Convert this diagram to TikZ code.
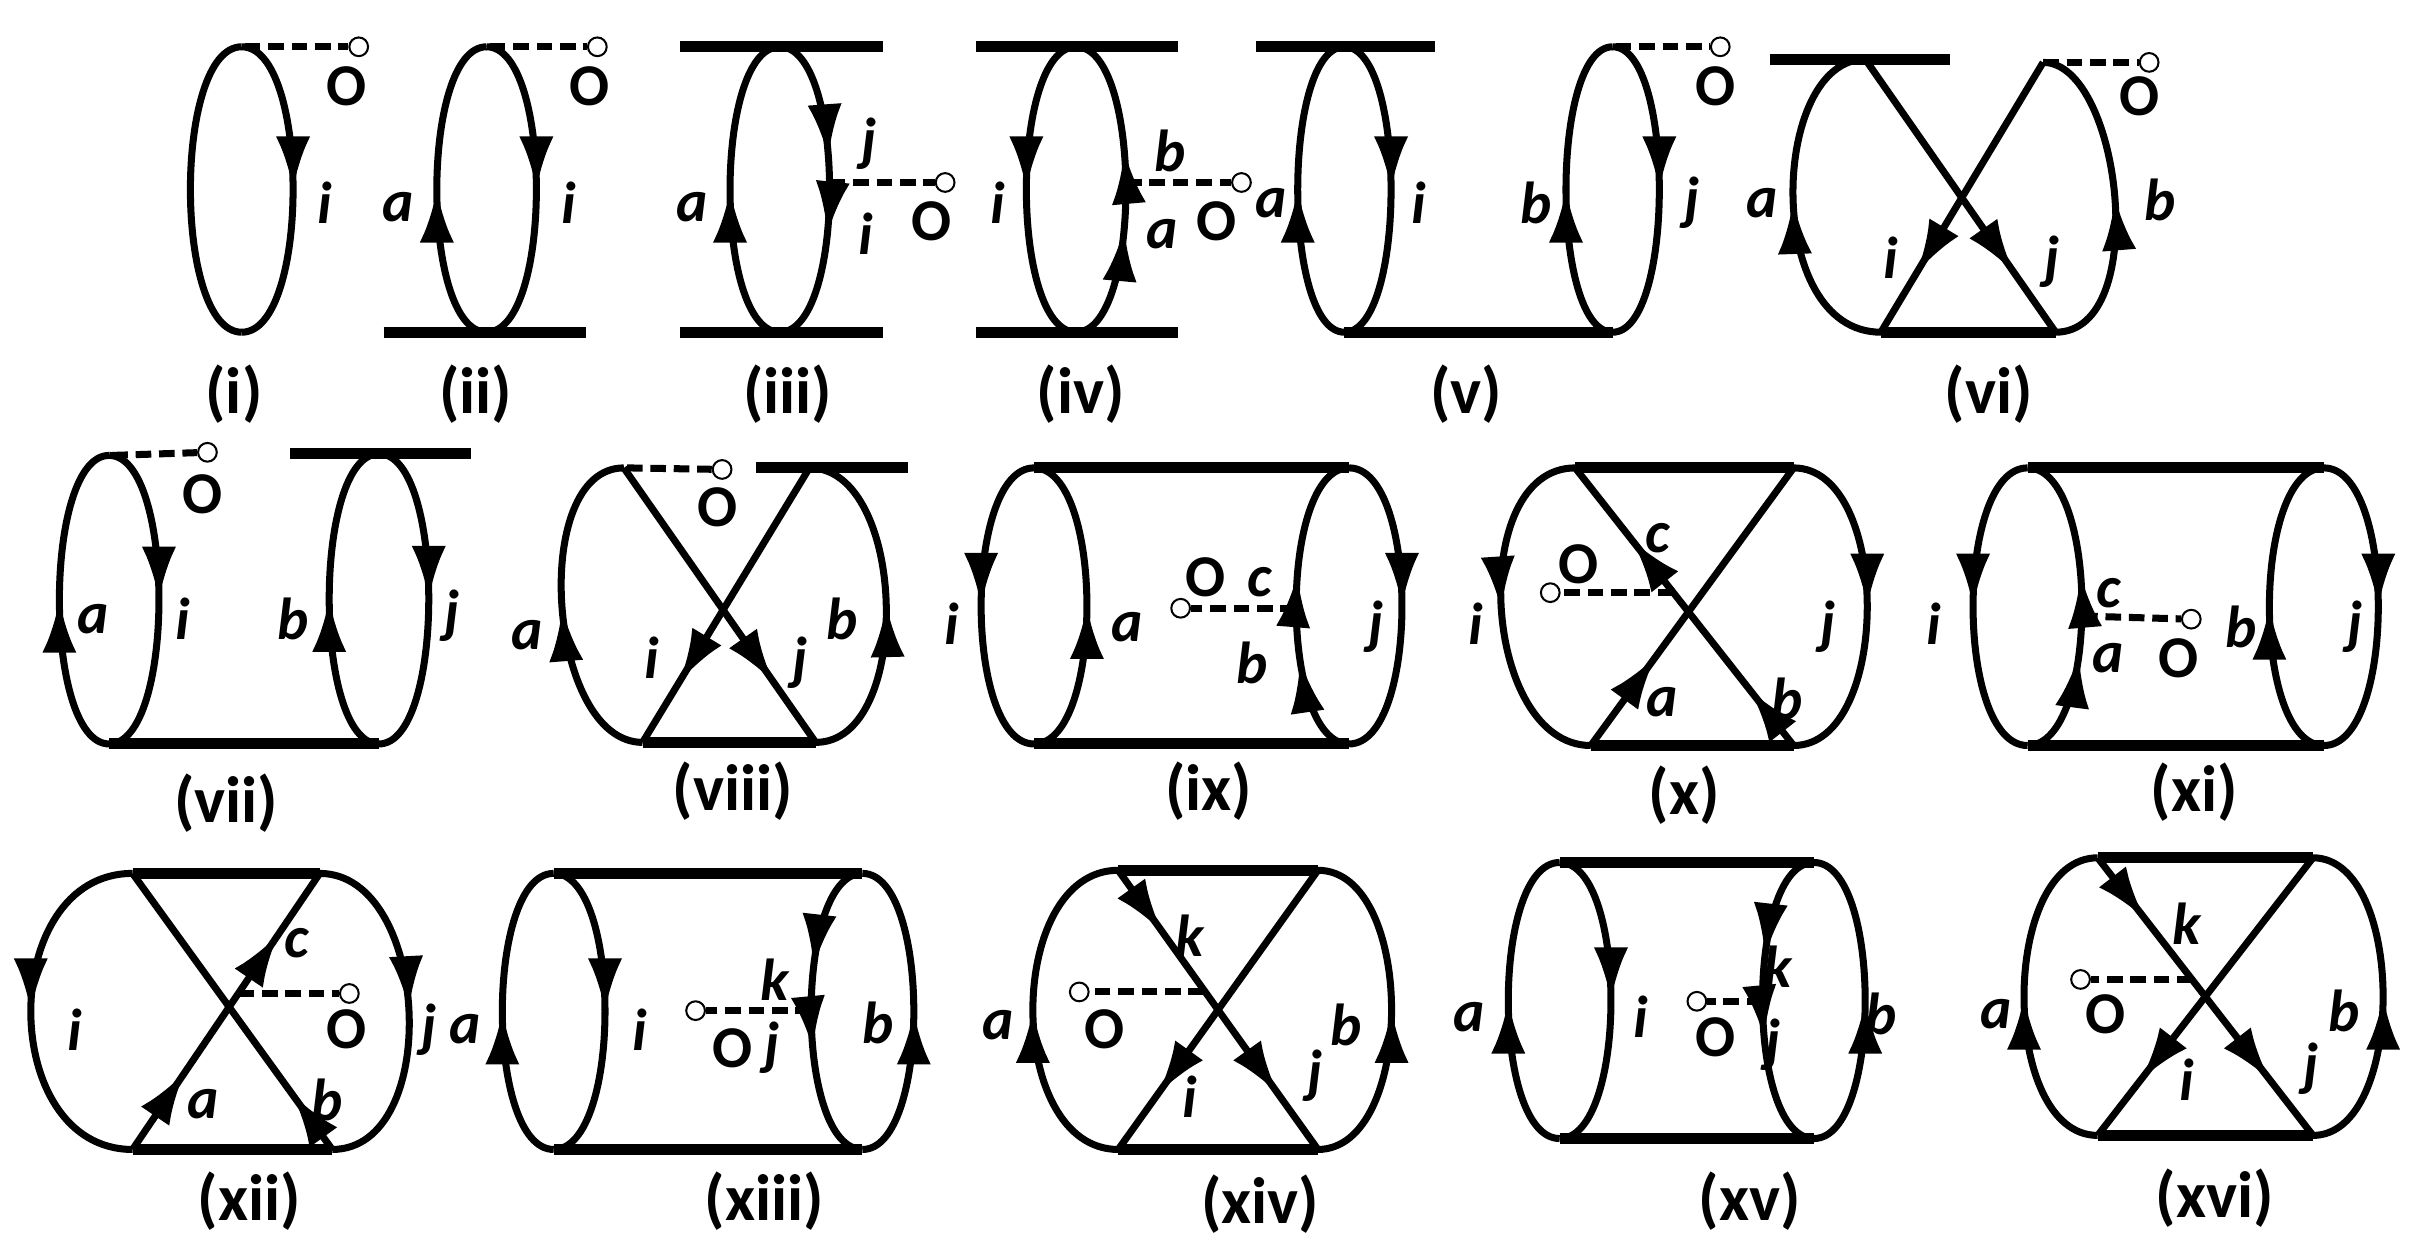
\documentclass[tikz,border=0pt]{standalone}
\usepackage{fontspec}
\setmainfont{Carlito}
\usetikzlibrary{arrows.meta,decorations.markings,calc}
\tikzset{
 tipp/.tip={Latex[length=34pt,width=22pt]},
 fw/.style={postaction={decorate,decoration={markings,mark=at position #1 with {\arrow{tipp}}}}}, fw/.default=0.5,
 bw/.style={postaction={decorate,decoration={markings,mark=at position #1 with {\arrowreversed{tipp}}}}}, bw/.default=0.5,
 fwb/.style n args={2}{postaction={decorate,decoration={markings,mark=at position #1 with {\arrow{tipp}},mark=at position #2 with {\arrow{tipp}}}}},
 bwb/.style n args={2}{postaction={decorate,decoration={markings,mark=at position #1 with {\arrowreversed{tipp}},mark=at position #2 with {\arrowreversed{tipp}}}}},
 bar/.style={line width=7pt},
 dsh/.style={line width=4.5pt,dash pattern=on 10pt off 5pt},
 oc/.style={circle,draw,fill=white,inner sep=0pt,minimum size=12pt,line width=1.3pt},
 lb/.style={font=\fontsize{38}{38}\selectfont\bfseries\itshape},
 ob/.style={font=\fontsize{38}{38}\selectfont\bfseries},
 captxt/.style={font=\fontsize{42}{42}\selectfont\bfseries},
}
\newcommand\lp[6]{%
 \draw[#5] (#1,#3) .. controls ({#1-1.33*#4},#3) and ({#1-1.33*#4},#2) .. (#1,#2);
 \draw[#6] (#1,#2) .. controls ({#1+1.33*#4},#2) and ({#1+1.33*#4},#3) .. (#1,#3);}
\newcommand\dl[5]{\node[oc] (#1) at (#4,#5) {}; \draw[dsh] (#2,#3) -- (#1);}
\newcommand\lab[3]{\node[lb] at (#1,#2) {#3};}
\newcommand\Ol[2]{\node[ob] at (#1,#2) {O};}
\begin{document}
\begin{tikzpicture}[x=1pt,y=-1pt,line width=4.5pt]
\useasboundingbox (0,0) rectangle (1560,801.5);
% (i)
\lp{155}{30}{213}{33}{}{fw}
\dl{c1}{157}{30}{230}{30}\Ol{222}{55}\lab{208}{130}{i}
\node[captxt] at (150,253) {(i)};
% (ii)
\draw[bar] (246,213) -- (376,213);
\lp{312}{30}{213}{32}{fw}{fw}
\dl{c2}{314}{30}{383}{30}\Ol{378}{55}\lab{255}{133}{a}\lab{365}{130}{i}
\node[captxt] at (305,253) {(ii)};
% (iii)
\draw[bar] (436,30) -- (566,30); \draw[bar] (436,213) -- (566,213);
\lp{500}{30}{213}{32}{fw}{fwb={0.4}{0.64}}
\dl{c3}{532}{117}{606}{117}\Ol{597}{142}\lab{557}{92}{j}\lab{555}{150}{i}\lab{444}{133}{a}
\node[captxt] at (505,253) {(iii)};
% (iv)
\draw[bar] (626,30) -- (755,30); \draw[bar] (626,213) -- (755,213);
\lp{690}{30}{213}{32}{bw}{bwb={0.38}{0.62}}
\dl{c4}{722}{117}{796}{117}\Ol{780}{142}\lab{640}{130}{i}\lab{750}{97}{b}\lab{745}{150}{a}
\node[captxt] at (693,253) {(iv)};
% (v)
\draw[bar] (805,30) -- (920,30); \draw[bar] (862,213) -- (1034,213);
\lp{862}{30}{213}{30}{fw}{fw}
\lp{1034}{30}{213}{30}{fw}{fw}
\dl{c5}{1036}{30}{1103}{30}\Ol{1100}{55}\lab{815}{130}{a}\lab{910}{130}{i}\lab{985}{130}{b}\lab{1085}{130}{j}
\node[captxt] at (940,253) {(v)};
% (vi)
\draw[bar] (1135,38) -- (1250,38); \draw[bar] (1206,213) -- (1318,213);
\draw[fw] (1206,213) .. controls (1130,213) and (1135,38) .. (1196,38);
\draw[fw] (1318,213) .. controls (1380,213) and (1360,40) .. (1310,40);
\draw[fw=0.78] (1196,38) -- (1318,213);
\draw[fw=0.78] (1310,40) -- (1206,213);
\dl{c6}{1310}{40}{1378}{40}\Ol{1372}{62}\lab{1130}{130}{a}\lab{1385}{128}{b}\lab{1212}{165}{i}\lab{1316}{168}{j}
\node[captxt] at (1275,253) {(vi)};
% (vii)
\draw[bar] (186,291) -- (302,291); \draw[bar] (70,477) -- (243,477);
\lp{70}{292}{477}{32}{fw}{fw}
\lp{243}{291}{477}{32}{fw}{fw}
\dl{c7}{72}{292}{133}{290}\Ol{130}{317}\lab{60}{397}{a}\lab{117}{397}{i}\lab{188}{397}{b}\lab{290}{395}{j}
\node[captxt] at (145,515) {(vii)};
% (viii)
\draw[bar] (485,300) -- (582,300); \draw[bar] (412,476) -- (523,476);
\draw[fw] (412,476) .. controls (351,476) and (339,300) .. (400,300);
\draw[fw] (523,476) .. controls (586,476) and (582,300) .. (519,300);
\draw[fw=0.78] (400,300) -- (523,476);
\draw[fw=0.78] (519,300) -- (412,476);
\dl{c8}{402}{300}{463}{301}\Ol{460}{325}\lab{338}{407}{a}\lab{540}{397}{b}\lab{418}{422}{i}\lab{513}{425}{j}
\node[captxt] at (470,507) {(viii)};
% (ix)
\draw[bar] (663,300) -- (865,300); \draw[bar] (663,477) -- (865,477);
\lp{663}{300}{477}{34}{bw}{bw}
\lp{865}{300}{477}{34}{fwb={0.33}{0.6}}{fw}
\dl{c9}{831}{390}{757}{390}\Ol{773}{370}\lab{808}{373}{c}\lab{803}{425}{b}\lab{610}{400}{i}\lab{723}{402}{a}\lab{882}{402}{j}
\node[captxt] at (775,507) {(ix)};
% (x)
\draw[bar] (1010,300) -- (1150,300); \draw[bar] (1020,478) -- (1150,478);
\draw[fw] (1010,300) .. controls (940,300) and (950,478) .. (1020,478);
\draw[fw] (1150,300) .. controls (1213,300) and (1213,478) .. (1150,478);
\draw[fwb={0.2}{0.74}] (1150,478) -- (1010,300);
\draw[fw=0.32] (1020,478) -- (1150,300);
\dl{c10}{1073}{380}{994}{380}\Ol{1012}{362}\lab{1063}{345}{c}\lab{1146}{448}{b}\lab{1066}{450}{a}\lab{946}{400}{i}\lab{1172}{402}{j}
\node[captxt] at (1080,510) {(x)};
% (xi)
\draw[bar] (1300,300) -- (1490,300); \draw[bar] (1300,478) -- (1490,478);
\lp{1300}{300}{478}{35}{bw}{bwb={0.4}{0.65}}
\lp{1490}{300}{478}{35}{fw}{fw}
\dl{c11}{1335}{395}{1405}{397}\Ol{1397}{422}\lab{1352}{380}{c}\lab{1352}{422}{a}\lab{1240}{400}{i}\lab{1437}{402}{b}\lab{1510}{402}{j}
\node[captxt] at (1407,508) {(xi)};
% (xii)
\draw[bar] (85,560) -- (205,560); \draw[bar] (85,737) -- (213,737);
\draw[fw] (85,560) .. controls (-2,560) and (-2,737) .. (85,737);
\draw[fw] (205,560) .. controls (276,560) and (284,737) .. (213,737);
\draw[fw=0.2] (213,737) -- (85,560);
\draw[fwb={0.28}{0.78}] (85,737) -- (205,560);
\dl{c12}{153}{637}{224}{637}\Ol{222}{660}\lab{130}{708}{a}\lab{210}{705}{b}\lab{190}{605}{c}\lab{48}{660}{i}\lab{275}{660}{j}
\node[captxt] at (160,770) {(xii)};
% (xiii)
\draw[bar] (355,560) -- (553,560); \draw[bar] (355,737) -- (553,737);
\lp{355}{560}{737}{33}{fw}{fw}
\lp{553}{560}{737}{33}{bwb={0.38}{0.64}}{bw}
\dl{c13}{520}{648}{446}{648}\Ol{470}{672}\lab{495}{672}{j}\lab{497}{628}{k}\lab{298}{660}{a}\lab{410}{660}{i}\lab{563}{656}{b}
\node[captxt] at (490,770) {(xiii)};
% (xiv)
\draw[bar] (717,558) -- (845,558); \draw[bar] (717,737) -- (845,737);
\draw[fw] (717,737) .. controls (644,737) and (644,558) .. (717,558);
\draw[fw] (845,737) .. controls (908,737) and (908,558) .. (845,558);
\draw[fwb={0.22}{0.8}] (717,558) -- (845,737);
\draw[fw=0.8] (845,558) -- (717,737);
\dl{c14}{772}{636}{692}{636}\Ol{708}{660}\lab{763}{600}{k}\lab{843}{690}{j}\lab{763}{703}{i}\lab{640}{657}{a}\lab{863}{657}{b}
\node[captxt] at (808,772) {(xiv)};
% (xv)
\draw[bar] (1000,553) -- (1163,553); \draw[bar] (1000,730) -- (1163,730);
\lp{1000}{553}{730}{33}{fw}{fw}
\lp{1163}{553}{730}{33}{bwb={0.38}{0.64}}{bw}
\dl{c15}{1130}{642}{1088}{642}\Ol{1100}{665}\lab{1140}{620}{k}\lab{1137}{670}{j}\lab{942}{652}{a}\lab{1052}{652}{i}\lab{1206}{650}{b}
\node[captxt] at (1122,770) {(xv)};
% (xvi)
\draw[bar] (1345,550) -- (1483,550); \draw[bar] (1345,728) -- (1483,728);
\draw[fw] (1345,728) .. controls (1282,728) and (1282,550) .. (1345,550);
\draw[fw] (1483,728) .. controls (1543,728) and (1543,550) .. (1483,550);
\draw[fwb={0.22}{0.8}] (1345,550) -- (1483,728);
\draw[fw=0.8] (1483,550) -- (1345,728);
\dl{c16}{1406}{628}{1334}{628}\Ol{1350}{650}\lab{1402}{592}{k}\lab{1482}{685}{j}\lab{1402}{692}{i}\lab{1280}{650}{a}\lab{1503}{648}{b}
\node[captxt] at (1420,768) {(xvi)};
\end{tikzpicture}
\end{document}
